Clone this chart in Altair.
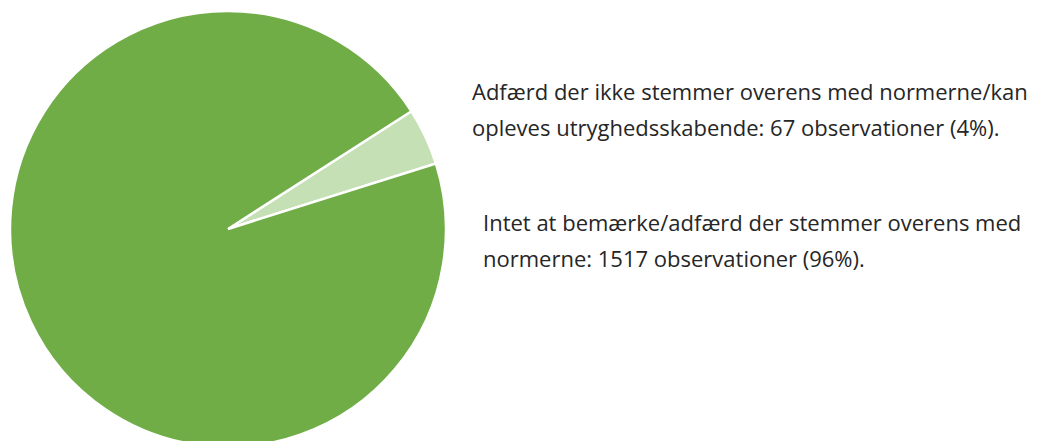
import altair as alt
import pandas as pd

categories = ["Adfærd der ikke stemmer overens med normerne/kan opleves utryghedsskabende",
              "Intet at bemærke/adfærd der stemmer overens med normerne"]
counts = [67, 1517]
colors = ["#C5E0B4", "#70AD47"]
label_small = ["Adfærd der ikke stemmer overens med normerne/kan",
               "opleves utryghedsskabende: 67 observationer (4%)."]
label_big = ["Intet at bemærke/adfærd der stemmer overens med",
             "normerne: 1517 observationer (96%)."]

df = pd.DataFrame({"category": categories, "count": counts, "order": [0, 1]})

start = 1.0  # radians from 12 o'clock
pie = alt.Chart(df).mark_arc(radius=218, stroke="white", strokeWidth=2.5).encode(
    theta=alt.Theta("count:Q", stack=True,
                    scale=alt.Scale(range=[start, start + 2 * 3.141592653589793])),
    color=alt.Color("category:N", scale=alt.Scale(domain=categories, range=colors), legend=None),
    order=alt.Order("order:Q"),
    x=alt.value(228), y=alt.value(229),
)

FONT = "Open Sans"
FS = 22
t1 = alt.Chart(df.head(1)).mark_text(align="left", baseline="middle", font=FONT,
                                     fontSize=FS, lineHeight=36, color="#262626").encode(
    x=alt.value(472), y=alt.value(93), text=alt.value(label_small))
t2 = alt.Chart(df.head(1)).mark_text(align="left", baseline="middle", font=FONT,
                                     fontSize=FS, lineHeight=36, color="#262626").encode(
    x=alt.value(483), y=alt.value(224), text=alt.value(label_big))

chart = alt.layer(pie, t1, t2).properties(
    width=1040, height=441, padding=0, autosize=alt.AutoSizeParams(type="none")
).configure_view(stroke=None)

chart.save("out.html", embed_options={"renderer": "svg", "actions": False})
